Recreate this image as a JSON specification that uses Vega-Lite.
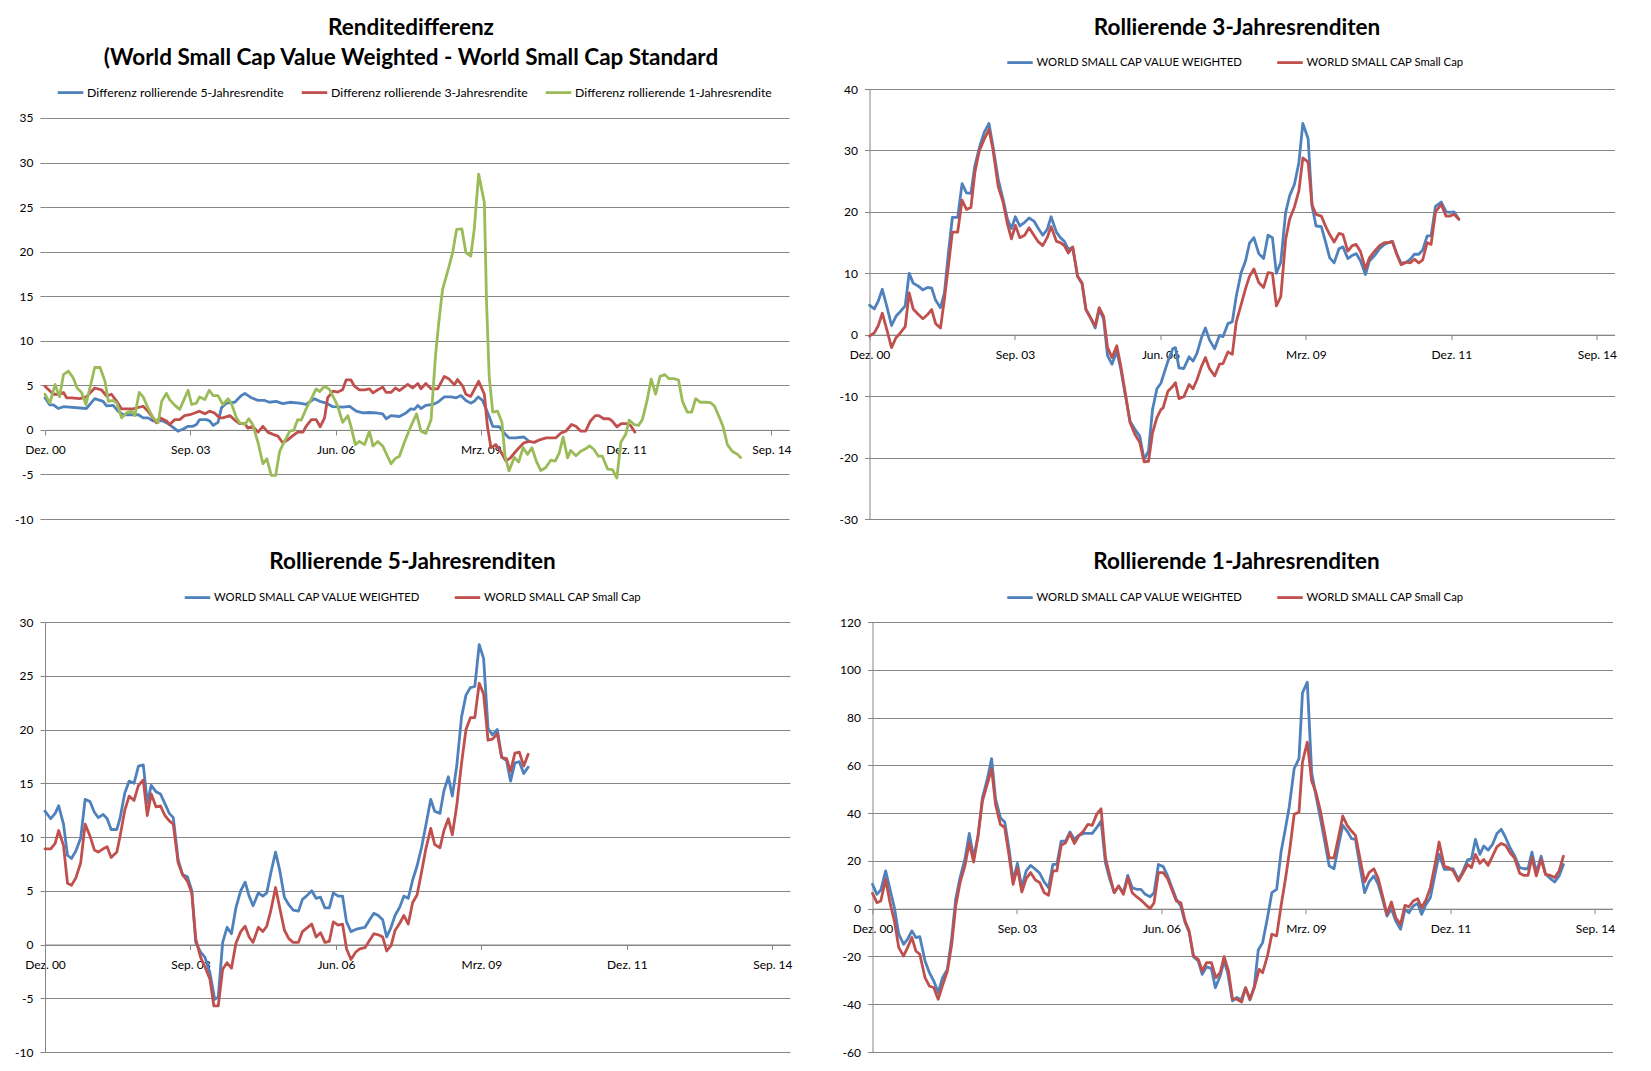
{
  "$schema": "https://vega.github.io/schema/vega-lite/v6.json",
  "autosize": "none",
  "padding": {"left": 45, "top": 89, "right": 1606, "bottom": 982},
  "background": "#ffffff",
  "config": {
    "font": "Lato",
    "view": {"stroke": null},
    "axis": {"labelFont": "Lato", "labelFontSize": 12, "labelColor": "#000000", "domainColor": "#868686", "tickColor": "#868686", "gridColor": "#868686", "gridWidth": 1, "domainWidth": 1, "tickSize": 5, "labelFlush": false, "labelOverlap": false, "title": null},
    "axisX": {"labelPadding": 10, "grid": false},
    "axisY": {"labelPadding": 7, "grid": true},
    "legend": {"labelFont": "Lato", "labelFontSize": 11.3, "labelColor": "#000000", "labelLimit": 500, "symbolType": "stroke", "symbolStrokeWidth": 2.5, "symbolSize": 650, "labelOffset": 2, "columnPadding": 32, "title": null, "orient": "none", "direction": "horizontal"},
    "title": {"font": "Lato", "fontSize": 22.5, "fontWeight": "bold", "color": "#000000", "frame": "group", "anchor": "middle"},
    "line": {"strokeWidth": 2.8, "strokeJoin": "round", "strokeCap": "round"}
  },
  "datasets": {
    "b5d": [{"m":0,"v":3.6},{"m":1.1,"v":2.8},{"m":1.9,"v":2.8},{"m":3,"v":2.4},{"m":4.2,"v":2.6},{"m":9.4,"v":2.4},{"m":11.3,"v":3.5},{"m":13.2,"v":3.2},{"m":14,"v":2.7},{"m":15.5,"v":2.75},{"m":16.6,"v":2.1},{"m":17.8,"v":1.7},{"m":21.2,"v":1.7},{"m":22.3,"v":1.35},{"m":23.4,"v":1.35},{"m":24.6,"v":1},{"m":26.8,"v":1},{"m":28.3,"v":0.6},{"m":30.2,"v":-0.15},{"m":31.4,"v":0.1},{"m":32.5,"v":0.4},{"m":33.6,"v":0.4},{"m":34.4,"v":0.6},{"m":35.1,"v":1.15},{"m":36.7,"v":1.15},{"m":37.4,"v":1},{"m":38.2,"v":0.5},{"m":39.3,"v":0.85},{"m":40.1,"v":2.5},{"m":41.2,"v":3},{"m":43.1,"v":3.1},{"m":44.6,"v":3.85},{"m":45.4,"v":4.1},{"m":46.9,"v":3.6},{"m":48.4,"v":3.3},{"m":49.9,"v":3.3},{"m":51,"v":3.1},{"m":52.5,"v":3.2},{"m":54,"v":2.95},{"m":55.6,"v":3.1},{"m":57.8,"v":3},{"m":59.3,"v":2.85},{"m":61.2,"v":3.5},{"m":62.4,"v":3.2},{"m":63.9,"v":3},{"m":65.4,"v":2.6},{"m":67.6,"v":2.55},{"m":69.2,"v":2.65},{"m":70.7,"v":2.1},{"m":72.2,"v":1.9},{"m":73.7,"v":1.95},{"m":75.2,"v":1.9},{"m":76.7,"v":1.8},{"m":77.5,"v":1.25},{"m":78.6,"v":1.6},{"m":80.5,"v":1.5},{"m":82,"v":1.9},{"m":83.1,"v":2.35},{"m":83.9,"v":2.3},{"m":84.7,"v":2.75},{"m":85.4,"v":2.4},{"m":86.5,"v":2.75},{"m":88.1,"v":2.85},{"m":89.2,"v":3.1},{"m":90.7,"v":3.7},{"m":92.2,"v":3.7},{"m":93.4,"v":3.6},{"m":94.5,"v":3.85},{"m":95.6,"v":3.3},{"m":96.7,"v":3},{"m":97.5,"v":3.2},{"m":98.4,"v":3.7},{"m":99.4,"v":3.3},{"m":100.9,"v":1.5},{"m":101.7,"v":0.4},{"m":103.2,"v":0.35},{"m":104.3,"v":-0.35},{"m":105.4,"v":-0.9},{"m":106.9,"v":-0.9},{"m":108.8,"v":-0.8},{"m":110,"v":-1.3}],
    "r3d": [{"m":0,"v":4.9},{"m":1.9,"v":4},{"m":3.4,"v":4},{"m":4.2,"v":4.2},{"m":4.9,"v":3.6},{"m":6,"v":3.6},{"m":7.9,"v":3.5},{"m":9.4,"v":3.7},{"m":11.3,"v":4.7},{"m":12.8,"v":4.5},{"m":14,"v":3.8},{"m":15.1,"v":4},{"m":16.3,"v":3.2},{"m":17.4,"v":2.35},{"m":20,"v":2.35},{"m":22.3,"v":2.65},{"m":23.4,"v":2.1},{"m":25.3,"v":0.8},{"m":26.1,"v":1.35},{"m":27.6,"v":1},{"m":28.3,"v":0.6},{"m":29.5,"v":1.15},{"m":30.6,"v":1.15},{"m":31.7,"v":1.6},{"m":32.9,"v":1.7},{"m":34,"v":1.9},{"m":35.1,"v":2.1},{"m":36.3,"v":1.8},{"m":37.4,"v":2.1},{"m":38.5,"v":1.9},{"m":39.7,"v":1.35},{"m":40.4,"v":1.35},{"m":42,"v":1.6},{"m":43.1,"v":1.1},{"m":44.2,"v":0.7},{"m":45.4,"v":0.7},{"m":46.1,"v":0.2},{"m":47.2,"v":0.4},{"m":48.4,"v":-0.25},{"m":49.5,"v":0.4},{"m":50.6,"v":-0.25},{"m":51.8,"v":-0.5},{"m":52.9,"v":-0.7},{"m":54,"v":-1.45},{"m":55.2,"v":-1.1},{"m":56.3,"v":-0.65},{"m":57.4,"v":-0.25},{"m":58.6,"v":-0.25},{"m":59.3,"v":0.4},{"m":60.5,"v":1.15},{"m":61.6,"v":1.15},{"m":62.5,"v":0.35},{"m":63.5,"v":1.35},{"m":64.2,"v":3.6},{"m":65.4,"v":4.35},{"m":66.5,"v":4.25},{"m":67.6,"v":4.5},{"m":68.4,"v":5.6},{"m":69.5,"v":5.6},{"m":70.3,"v":4.9},{"m":71.4,"v":4.5},{"m":72.6,"v":4.5},{"m":73.7,"v":4.6},{"m":74.5,"v":4.15},{"m":75.6,"v":4.5},{"m":76.7,"v":4.8},{"m":77.5,"v":4.2},{"m":78.6,"v":4.2},{"m":79.6,"v":4.7},{"m":80.5,"v":4.4},{"m":82.4,"v":5.1},{"m":83.5,"v":4.7},{"m":84.7,"v":5.2},{"m":85.4,"v":4.6},{"m":86.5,"v":5.2},{"m":87.7,"v":4.6},{"m":89.2,"v":4.6},{"m":90.7,"v":6},{"m":91.8,"v":5.7},{"m":93,"v":5.05},{"m":93.7,"v":5.65},{"m":94.9,"v":4.9},{"m":95.6,"v":4},{"m":96.7,"v":3.75},{"m":98.5,"v":5.45},{"m":99.8,"v":4},{"m":100.5,"v":0.4},{"m":101.3,"v":-2},{"m":102.4,"v":-1.65},{"m":103.5,"v":-2.4},{"m":104.7,"v":-3.5},{"m":105.8,"v":-3.1},{"m":107.3,"v":-2.2},{"m":108.8,"v":-1.45},{"m":110,"v":-1.3},{"m":111.1,"v":-1.4},{"m":112.2,"v":-1.15},{"m":113.8,"v":-0.9},{"m":114.9,"v":-0.9},{"m":116,"v":-0.9},{"m":117.2,"v":-0.35},{"m":118.3,"v":-0.15},{"m":119.6,"v":0.6},{"m":120.6,"v":0.4},{"m":121.7,"v":-0.15},{"m":122.8,"v":-0.15},{"m":123.9,"v":1},{"m":125,"v":1.6},{"m":125.8,"v":1.6},{"m":126.9,"v":1.25},{"m":128.1,"v":1.25},{"m":128.8,"v":1},{"m":129.9,"v":0.35},{"m":130.9,"v":0.7},{"m":132.2,"v":0.7},{"m":133,"v":0.5},{"m":134,"v":-0.25}],
    "g1d": [{"m":0,"v":4},{"m":1.1,"v":3},{"m":2.3,"v":5.1},{"m":3.3,"v":3.7},{"m":4.2,"v":6.2},{"m":5.3,"v":6.6},{"m":6.4,"v":5.85},{"m":7.3,"v":4.7},{"m":8.3,"v":4.2},{"m":9.3,"v":2.85},{"m":10.2,"v":4.7},{"m":11.3,"v":7},{"m":12.5,"v":7},{"m":13.6,"v":5.5},{"m":14.4,"v":3.2},{"m":15.5,"v":3.3},{"m":16.3,"v":3},{"m":17.4,"v":1.35},{"m":18.5,"v":1.9},{"m":19.7,"v":2.1},{"m":20.4,"v":1.6},{"m":21.4,"v":4.2},{"m":22.3,"v":3.7},{"m":23.4,"v":2.45},{"m":24.6,"v":1.35},{"m":25.7,"v":0.8},{"m":26.5,"v":3.2},{"m":27.6,"v":4.1},{"m":28.3,"v":3.4},{"m":29.5,"v":2.75},{"m":30.6,"v":2.3},{"m":31.4,"v":3.2},{"m":32.5,"v":4.45},{"m":33.3,"v":2.85},{"m":34.4,"v":3},{"m":35.1,"v":3.7},{"m":36.3,"v":3.4},{"m":37.3,"v":4.45},{"m":38.2,"v":3.85},{"m":39.3,"v":3.85},{"m":40.4,"v":2.85},{"m":41.6,"v":3.5},{"m":42.3,"v":3},{"m":43.5,"v":1.35},{"m":44.2,"v":0.8},{"m":45.4,"v":0.6},{"m":46.3,"v":1.25},{"m":47.2,"v":0.6},{"m":48.4,"v":-1.45},{"m":49.5,"v":-3.8},{"m":50.4,"v":-3.25},{"m":51.4,"v":-5.1},{"m":52.4,"v":-5.1},{"m":53.3,"v":-2.4},{"m":54.4,"v":-1.3},{"m":55.6,"v":-0.15},{"m":56.5,"v":-0.05},{"m":57.4,"v":1.15},{"m":58.2,"v":1.1},{"m":59.3,"v":2.35},{"m":60.5,"v":3.5},{"m":61.6,"v":4.6},{"m":62.4,"v":4.3},{"m":63.5,"v":4.9},{"m":64.6,"v":4.55},{"m":65.8,"v":3.4},{"m":66.5,"v":2.65},{"m":67.6,"v":0.85},{"m":68.8,"v":1.6},{"m":69.5,"v":0.4},{"m":70.5,"v":-1.65},{"m":71.4,"v":-1.3},{"m":72.6,"v":-1.65},{"m":73.7,"v":-0.15},{"m":74.5,"v":-1.8},{"m":75.6,"v":-1.3},{"m":76.7,"v":-1.8},{"m":78.6,"v":-3.8},{"m":79.6,"v":-3.2},{"m":80.5,"v":-2.95},{"m":81.6,"v":-1.45},{"m":83.1,"v":0.4},{"m":84.4,"v":1.8},{"m":85.4,"v":-0.15},{"m":86.5,"v":-0.4},{"m":87.7,"v":1.15},{"m":88.7,"v":8.3},{"m":89.4,"v":11.8},{"m":90.3,"v":15.75},{"m":91.7,"v":18.2},{"m":92.6,"v":19.9},{"m":93.5,"v":22.5},{"m":94.7,"v":22.55},{"m":95.6,"v":19.9},{"m":96.7,"v":19.5},{"m":97.5,"v":22.5},{"m":98.5,"v":28.7},{"m":99.8,"v":25.5},{"m":100.3,"v":14.25},{"m":100.9,"v":6},{"m":101.7,"v":2},{"m":102.8,"v":2.1},{"m":103.8,"v":0.85},{"m":104.5,"v":-2.95},{"m":105.4,"v":-4.6},{"m":106.6,"v":-3.1},{"m":107.6,"v":-3.6},{"m":108.6,"v":-2},{"m":109.6,"v":-2.75},{"m":110.6,"v":-2},{"m":111.6,"v":-3.5},{"m":112.6,"v":-4.55},{"m":113.7,"v":-4.25},{"m":114.9,"v":-3.4},{"m":115.9,"v":-3.5},{"m":116.8,"v":-2.6},{"m":117.7,"v":-0.8},{"m":118.7,"v":-3.15},{"m":119.4,"v":-2.3},{"m":120.6,"v":-2.9},{"m":121.7,"v":-2.4},{"m":122.7,"v":-2.15},{"m":123.7,"v":-1.8},{"m":124.7,"v":-2.2},{"m":125.7,"v":-2.95},{"m":126.6,"v":-2.95},{"m":127.8,"v":-4.4},{"m":128.9,"v":-4.45},{"m":129.9,"v":-5.4},{"m":130.8,"v":-1.4},{"m":131.9,"v":-0.5},{"m":132.7,"v":1.1},{"m":133.8,"v":0.6},{"m":134.8,"v":0.5},{"m":135.7,"v":1.15},{"m":136.8,"v":3.4},{"m":137.7,"v":5.7},{"m":138.7,"v":4},{"m":139.7,"v":6},{"m":140.8,"v":6.2},{"m":141.7,"v":5.75},{"m":142.9,"v":5.75},{"m":143.9,"v":5.6},{"m":144.8,"v":3.2},{"m":145.9,"v":2},{"m":146.9,"v":2},{"m":147.8,"v":3.5},{"m":148.9,"v":3.1},{"m":150,"v":3.1},{"m":151.2,"v":3.05},{"m":152.1,"v":2.65},{"m":153.1,"v":1.5},{"m":154,"v":0.4},{"m":155,"v":-1.65},{"m":156.1,"v":-2.4},{"m":157.3,"v":-2.75},{"m":158,"v":-3.1}],
    "b3": [{"m":0,"v":4.8},{"m":1.1,"v":4.2},{"m":2,"v":5.5},{"m":2.9,"v":7.4},{"m":3.9,"v":4.7},{"m":5,"v":1.5},{"m":6,"v":3},{"m":6.9,"v":3.7},{"m":8.1,"v":4.7},{"m":9,"v":10},{"m":9.9,"v":8.4},{"m":11.1,"v":7.9},{"m":12.1,"v":7.3},{"m":13.2,"v":7.7},{"m":14.1,"v":7.6},{"m":15,"v":5.6},{"m":16.1,"v":4.4},{"m":17,"v":6.8},{"m":17.9,"v":13.3},{"m":18.8,"v":19.1},{"m":20,"v":19.1},{"m":21,"v":24.6},{"m":22,"v":23.1},{"m":23,"v":23},{"m":23.9,"v":27.5},{"m":24.9,"v":30.4},{"m":26,"v":32.9},{"m":27.1,"v":34.4},{"m":28,"v":30.7},{"m":29.2,"v":25.3},{"m":30.3,"v":22},{"m":31.3,"v":18.8},{"m":32.2,"v":17.3},{"m":33.1,"v":19.2},{"m":34.1,"v":17.7},{"m":35.2,"v":18.3},{"m":36.2,"v":19},{"m":37.3,"v":18.5},{"m":38.2,"v":17.4},{"m":39.3,"v":16.2},{"m":40.3,"v":17.1},{"m":41.2,"v":19.2},{"m":42.4,"v":16.7},{"m":43.3,"v":15.8},{"m":44.2,"v":15.2},{"m":45.1,"v":13.9},{"m":46.1,"v":14.2},{"m":47.2,"v":9.5},{"m":48.2,"v":8.4},{"m":49.1,"v":4.1},{"m":50.1,"v":2.8},{"m":51.2,"v":1.1},{"m":52.1,"v":4.1},{"m":53.1,"v":2.6},{"m":54,"v":-3.4},{"m":55,"v":-4.8},{"m":56.1,"v":-2.7},{"m":57,"v":-5.6},{"m":58,"v":-9.7},{"m":59.1,"v":-14.1},{"m":60.2,"v":-15.4},{"m":61.3,"v":-16.5},{"m":62.3,"v":-20.3},{"m":63.3,"v":-18.9},{"m":64.2,"v":-12.2},{"m":65.2,"v":-8.8},{"m":66.1,"v":-7.9},{"m":67.7,"v":-4.3},{"m":68.8,"v":-2.3},{"m":69.4,"v":-2.1},{"m":70.2,"v":-5.4},{"m":71.3,"v":-5.5},{"m":72.5,"v":-3.6},{"m":73.4,"v":-4.3},{"m":74.3,"v":-3},{"m":75.3,"v":-0.5},{"m":76.2,"v":1.1},{"m":77.1,"v":-0.8},{"m":78.3,"v":-2.3},{"m":79.4,"v":-0.1},{"m":80.2,"v":-0.3},{"m":81.3,"v":1.8},{"m":82.3,"v":2.1},{"m":83.2,"v":6.3},{"m":84.3,"v":10.1},{"m":85.3,"v":12},{"m":86.2,"v":14.9},{"m":87.2,"v":15.8},{"m":88.3,"v":13.2},{"m":89.4,"v":12.4},{"m":90.4,"v":16.2},{"m":91.4,"v":15.8},{"m":92.3,"v":10},{"m":93.3,"v":11.8},{"m":94.4,"v":19.9},{"m":95.3,"v":22.6},{"m":96.4,"v":24.5},{"m":97.4,"v":28},{"m":98.3,"v":34.4},{"m":99.5,"v":31.9},{"m":100.4,"v":20.9},{"m":101.3,"v":17.7},{"m":102.5,"v":17.6},{"m":103.5,"v":15},{"m":104.4,"v":12.5},{"m":105.4,"v":11.7},{"m":106.5,"v":14},{"m":107.4,"v":14.3},{"m":108.5,"v":12.4},{"m":109.5,"v":12.9},{"m":110.4,"v":13.2},{"m":111.4,"v":12},{"m":112.5,"v":9.8},{"m":113.4,"v":12},{"m":114.6,"v":12.9},{"m":115.7,"v":14},{"m":116.8,"v":14.7},{"m":117.8,"v":15},{"m":118.6,"v":15.2},{"m":119.6,"v":13.2},{"m":120.6,"v":11.6},{"m":121.8,"v":11.8},{"m":122.7,"v":12.3},{"m":123.6,"v":13.1},{"m":124.6,"v":13.1},{"m":125.5,"v":13.8},{"m":126.5,"v":16.1},{"m":127.4,"v":16.1},{"m":128.4,"v":20.9},{"m":129.7,"v":21.6},{"m":130.8,"v":20},{"m":131.6,"v":19.9},{"m":132.6,"v":20},{"m":133.7,"v":18.8}],
    "r3": [{"m":0,"v":-0.2},{"m":1.1,"v":0.3},{"m":2,"v":1.5},{"m":2.9,"v":3.5},{"m":3.9,"v":0.9},{"m":5,"v":-2.1},{"m":6,"v":-0.5},{"m":6.9,"v":0.2},{"m":8.1,"v":1.3},{"m":9,"v":6.8},{"m":9.9,"v":4.2},{"m":11.1,"v":3.3},{"m":12.1,"v":2.6},{"m":13.2,"v":3.3},{"m":14.1,"v":4.1},{"m":15,"v":1.8},{"m":16.1,"v":1.1},{"m":17,"v":5.8},{"m":17.9,"v":11.2},{"m":18.8,"v":16.7},{"m":20,"v":16.7},{"m":21,"v":21.9},{"m":22,"v":20.4},{"m":23,"v":20.7},{"m":23.9,"v":26.4},{"m":24.9,"v":29.9},{"m":26,"v":31.8},{"m":27.1,"v":33.4},{"m":28,"v":30.2},{"m":29.2,"v":24.1},{"m":30.3,"v":21.6},{"m":31.3,"v":18},{"m":32.2,"v":15.6},{"m":33.1,"v":17.8},{"m":34.1,"v":15.8},{"m":35.2,"v":16.2},{"m":36.2,"v":17.4},{"m":37.3,"v":16.2},{"m":38.2,"v":15.2},{"m":39.3,"v":14.5},{"m":40.3,"v":15.8},{"m":41.2,"v":17.6},{"m":42.4,"v":15.2},{"m":43.3,"v":15},{"m":44.2,"v":14.5},{"m":45.1,"v":13.3},{"m":46.1,"v":14.3},{"m":47.2,"v":9.5},{"m":48.2,"v":8.4},{"m":49.1,"v":4.1},{"m":50.1,"v":2.8},{"m":51.2,"v":1.4},{"m":52.1,"v":4.4},{"m":53.1,"v":3},{"m":54,"v":-2.1},{"m":55,"v":-3.7},{"m":56.1,"v":-1.8},{"m":57,"v":-5.1},{"m":58,"v":-9.4},{"m":59.1,"v":-14.3},{"m":60.2,"v":-16.2},{"m":61.3,"v":-17.5},{"m":62.3,"v":-20.7},{"m":63.3,"v":-20.6},{"m":64.2,"v":-16},{"m":65.2,"v":-13.5},{"m":66.1,"v":-12.2},{"m":66.6,"v":-11.9},{"m":67.7,"v":-9.2},{"m":68.8,"v":-8.4},{"m":69.4,"v":-7.8},{"m":70.2,"v":-10.4},{"m":71.3,"v":-10.1},{"m":72.5,"v":-8.1},{"m":73.4,"v":-8.8},{"m":74.3,"v":-7.3},{"m":75.3,"v":-5.2},{"m":76.2,"v":-3.7},{"m":77.1,"v":-5.5},{"m":78.3,"v":-6.7},{"m":79.4,"v":-4.8},{"m":80.2,"v":-4.7},{"m":81.3,"v":-2.8},{"m":82.3,"v":-3.2},{"m":83.2,"v":2.1},{"m":84.3,"v":4.9},{"m":85.3,"v":7.5},{"m":86.2,"v":9.5},{"m":87.2,"v":10.7},{"m":88.3,"v":8.5},{"m":89.4,"v":7.7},{"m":90.4,"v":10.1},{"m":91.4,"v":10},{"m":92.3,"v":4.7},{"m":93.3,"v":6.2},{"m":94.4,"v":15.5},{"m":95.3,"v":18.8},{"m":96.4,"v":20.8},{"m":97.4,"v":23.4},{"m":98.3,"v":28.8},{"m":99.5,"v":28.1},{"m":100.4,"v":21.1},{"m":101.3,"v":19.6},{"m":102.5,"v":19.3},{"m":103.5,"v":17.6},{"m":104.4,"v":16.3},{"m":105.4,"v":15.1},{"m":106.5,"v":16.5},{"m":107.4,"v":16.3},{"m":108.5,"v":13.6},{"m":109.5,"v":14.5},{"m":110.4,"v":14.7},{"m":111.4,"v":13.5},{"m":112.5,"v":10.7},{"m":113.4,"v":12.5},{"m":114.6,"v":13.6},{"m":115.7,"v":14.5},{"m":116.8,"v":15},{"m":117.8,"v":15},{"m":118.6,"v":15.2},{"m":119.6,"v":13.1},{"m":120.6,"v":11.4},{"m":121.8,"v":11.8},{"m":122.7,"v":11.7},{"m":123.6,"v":12.3},{"m":124.6,"v":11.7},{"m":125.5,"v":12.2},{"m":126.5,"v":15},{"m":127.4,"v":14.7},{"m":128.4,"v":20},{"m":129.7,"v":21.2},{"m":130.8,"v":19.3},{"m":131.6,"v":19.3},{"m":132.6,"v":19.6},{"m":133.7,"v":18.8}],
    "b5": [{"m":0,"v":12.4},{"m":1.3,"v":11.7},{"m":2.3,"v":12.2},{"m":3.1,"v":12.9},{"m":4.2,"v":11.2},{"m":5.1,"v":8.3},{"m":6,"v":8},{"m":7,"v":8.7},{"m":8.1,"v":9.9},{"m":9.1,"v":13.5},{"m":10.2,"v":13.3},{"m":11.2,"v":12.3},{"m":12.1,"v":11.8},{"m":13.2,"v":12.1},{"m":14.1,"v":11.7},{"m":15,"v":10.7},{"m":16.3,"v":10.7},{"m":17,"v":11.7},{"m":18.1,"v":14.1},{"m":19.1,"v":15.2},{"m":20.2,"v":15},{"m":21.2,"v":16.6},{"m":22.3,"v":16.7},{"m":23.2,"v":13.2},{"m":24.1,"v":14.8},{"m":25.2,"v":14.2},{"m":26.2,"v":14},{"m":27.2,"v":13.1},{"m":28.2,"v":12.2},{"m":29.1,"v":11.8},{"m":30.2,"v":7.9},{"m":31.2,"v":6.5},{"m":32.3,"v":6.3},{"m":33.3,"v":5},{"m":34.2,"v":0.2},{"m":35.3,"v":-0.7},{"m":36.3,"v":-1.2},{"m":37.4,"v":-2.6},{"m":38.5,"v":-5.1},{"m":39.3,"v":-4.9},{"m":40.3,"v":0.2},{"m":41.3,"v":1.6},{"m":42.3,"v":1},{"m":43.3,"v":3.4},{"m":44.4,"v":5},{"m":45.4,"v":5.8},{"m":46.3,"v":4.5},{"m":47.2,"v":3.6},{"m":48.4,"v":4.8},{"m":49.4,"v":4.5},{"m":50.3,"v":4.8},{"m":51.2,"v":6.6},{"m":52.3,"v":8.6},{"m":53.3,"v":6.8},{"m":54.3,"v":4.4},{"m":55.3,"v":3.7},{"m":56.3,"v":3.2},{"m":57.5,"v":3.1},{"m":58.4,"v":4.2},{"m":59.3,"v":4.5},{"m":60.5,"v":5},{"m":61.5,"v":4.3},{"m":62.5,"v":4.4},{"m":63.5,"v":3.4},{"m":64.5,"v":3.4},{"m":65.4,"v":4.8},{"m":66.5,"v":4.5},{"m":67.5,"v":4.5},{"m":68.4,"v":2.1},{"m":69.4,"v":1.2},{"m":70.5,"v":1.4},{"m":71.4,"v":1.5},{"m":72.6,"v":1.6},{"m":73.5,"v":2.2},{"m":74.6,"v":2.9},{"m":75.6,"v":2.7},{"m":76.6,"v":2.3},{"m":77.5,"v":0.7},{"m":78.5,"v":1.6},{"m":79.4,"v":2.7},{"m":80.5,"v":3.5},{"m":81.4,"v":4.5},{"m":82.4,"v":4.3},{"m":83.4,"v":6},{"m":84.4,"v":7.3},{"m":85.4,"v":9},{"m":86.4,"v":11.1},{"m":87.5,"v":13.5},{"m":88.4,"v":12.4},{"m":89.6,"v":12.2},{"m":90.5,"v":14.3},{"m":91.5,"v":15.6},{"m":92.4,"v":13.8},{"m":93.4,"v":16.6},{"m":94.5,"v":21.2},{"m":95.5,"v":23.2},{"m":96.5,"v":23.9},{"m":97.5,"v":24},{"m":98.5,"v":27.9},{"m":99.5,"v":26.6},{"m":100.5,"v":20.1},{"m":101.5,"v":19.5},{"m":102.6,"v":20},{"m":103.6,"v":17.4},{"m":104.7,"v":17.1},{"m":105.6,"v":15.2},{"m":106.6,"v":16.9},{"m":107.6,"v":17},{"m":108.6,"v":15.9},{"m":109.6,"v":16.5}],
    "r5": [{"m":0,"v":8.9},{"m":1.3,"v":8.9},{"m":2.3,"v":9.4},{"m":3.1,"v":10.6},{"m":4.2,"v":9.2},{"m":5.1,"v":5.7},{"m":6,"v":5.5},{"m":7,"v":6.2},{"m":8.1,"v":7.6},{"m":9.1,"v":11.2},{"m":10.2,"v":10.1},{"m":11.2,"v":8.8},{"m":12.1,"v":8.6},{"m":13.2,"v":8.9},{"m":14.1,"v":9.1},{"m":15,"v":8.1},{"m":16.3,"v":8.6},{"m":17,"v":10},{"m":18.1,"v":12.5},{"m":19.1,"v":13.8},{"m":20.2,"v":13.4},{"m":21.2,"v":14.8},{"m":22.3,"v":15.3},{"m":23.2,"v":12},{"m":24.1,"v":14},{"m":25.2,"v":12.8},{"m":26.2,"v":12.9},{"m":27.2,"v":12},{"m":28.2,"v":11.5},{"m":29.1,"v":11.2},{"m":30.2,"v":7.6},{"m":31.2,"v":6.5},{"m":32.3,"v":5.9},{"m":33.3,"v":4.8},{"m":34.2,"v":0.5},{"m":35.3,"v":-1.2},{"m":36.3,"v":-2.1},{"m":37.4,"v":-3.2},{"m":38.3,"v":-5.7},{"m":39.3,"v":-5.7},{"m":40.3,"v":-2.3},{"m":41.3,"v":-1.7},{"m":42.3,"v":-2.2},{"m":43.3,"v":0.1},{"m":44.4,"v":1.2},{"m":45.4,"v":1.7},{"m":46.3,"v":0.7},{"m":47.2,"v":0.2},{"m":48.4,"v":1.6},{"m":49.4,"v":1.2},{"m":50.3,"v":1.7},{"m":51.2,"v":3.1},{"m":52.3,"v":5.3},{"m":53.3,"v":3.3},{"m":54.3,"v":1.35},{"m":55.3,"v":0.55},{"m":56.3,"v":0.2},{"m":57.5,"v":0.2},{"m":58.4,"v":1.2},{"m":59.3,"v":1.5},{"m":60.5,"v":1.9},{"m":61.5,"v":0.7},{"m":62.5,"v":1.1},{"m":63.5,"v":0.2},{"m":64.5,"v":0.3},{"m":65.4,"v":2.1},{"m":66.5,"v":1.8},{"m":67.5,"v":1.9},{"m":68.4,"v":-0.4},{"m":69.4,"v":-1.4},{"m":70.5,"v":-0.7},{"m":71.4,"v":-0.4},{"m":72.6,"v":-0.3},{"m":73.5,"v":0.3},{"m":74.6,"v":1},{"m":75.6,"v":0.9},{"m":76.6,"v":0.7},{"m":77.5,"v":-0.6},{"m":78.5,"v":-0.1},{"m":79.4,"v":1.3},{"m":80.5,"v":2},{"m":81.4,"v":2.7},{"m":82.4,"v":1.9},{"m":83.4,"v":3.9},{"m":84.4,"v":4.6},{"m":85.4,"v":6.7},{"m":86.4,"v":8.9},{"m":87.5,"v":10.8},{"m":88.4,"v":9.3},{"m":89.6,"v":9},{"m":90.5,"v":10.6},{"m":91.5,"v":11.7},{"m":92.4,"v":10.2},{"m":93.4,"v":12.9},{"m":94.5,"v":16.9},{"m":95.5,"v":20},{"m":96.5,"v":21.1},{"m":97.5,"v":21.1},{"m":98.5,"v":24.3},{"m":99.5,"v":23.3},{"m":100.5,"v":19},{"m":101.5,"v":19.1},{"m":102.6,"v":19.6},{"m":103.6,"v":17.4},{"m":104.7,"v":17.3},{"m":105.6,"v":16.1},{"m":106.6,"v":17.8},{"m":107.6,"v":17.9},{"m":108.6,"v":16.6},{"m":109.6,"v":17.7}],
    "b1": [{"m":0,"v":10.2},{"m":1,"v":6},{"m":1.9,"v":7.8},{"m":3,"v":15.8},{"m":4,"v":8.1},{"m":5,"v":0.4},{"m":6,"v":-10.7},{"m":7.1,"v":-14.9},{"m":8,"v":-12.8},{"m":9,"v":-9.3},{"m":9.9,"v":-12.1},{"m":10.8,"v":-11.7},{"m":12,"v":-21.9},{"m":13,"v":-26.8},{"m":14,"v":-30.3},{"m":15,"v":-35.1},{"m":16,"v":-28.9},{"m":17.1,"v":-25.4},{"m":18.1,"v":-12.1},{"m":19,"v":3.9},{"m":20,"v":13},{"m":21.1,"v":20.6},{"m":22.1,"v":31.5},{"m":23.1,"v":21.3},{"m":24.1,"v":30.4},{"m":25.1,"v":46.4},{"m":26.2,"v":54.1},{"m":27.2,"v":62.8},{"m":28.1,"v":46},{"m":29.2,"v":38.1},{"m":30.2,"v":36.3},{"m":31.2,"v":24.8},{"m":32.1,"v":11.6},{"m":33.1,"v":19},{"m":34.1,"v":8.8},{"m":35.1,"v":15.8},{"m":36.1,"v":18.1},{"m":37.2,"v":16.5},{"m":38.2,"v":14.8},{"m":39.2,"v":11.2},{"m":40.2,"v":8.8},{"m":41.2,"v":18.5},{"m":42.1,"v":18.5},{"m":43.1,"v":28.3},{"m":44.1,"v":28.3},{"m":45.1,"v":32.1},{"m":46.1,"v":29},{"m":47.1,"v":30.7},{"m":48.2,"v":31.5},{"m":49.2,"v":31.5},{"m":50.2,"v":31.5},{"m":51.2,"v":33.9},{"m":52.2,"v":36.7},{"m":53.2,"v":19.2},{"m":54.2,"v":12.3},{"m":55.2,"v":6.7},{"m":56.2,"v":9.5},{"m":57.3,"v":6.7},{"m":58.3,"v":13.9},{"m":59.3,"v":8.8},{"m":60.3,"v":8.1},{"m":61.3,"v":8.1},{"m":62.3,"v":6},{"m":63.4,"v":5},{"m":64.3,"v":6.7},{"m":65.3,"v":18.5},{"m":66.4,"v":17.6},{"m":67.4,"v":13.7},{"m":68.4,"v":8.8},{"m":69.4,"v":3.9},{"m":70.4,"v":1.1},{"m":71.4,"v":-5.9},{"m":72.3,"v":-9.8},{"m":73.3,"v":-20.1},{"m":74.4,"v":-21.9},{"m":75.3,"v":-27.5},{"m":76.3,"v":-24.3},{"m":77.4,"v":-25.1},{"m":78.3,"v":-33.1},{"m":79.4,"v":-28.2},{"m":80.3,"v":-21.9},{"m":81.1,"v":-26.8},{"m":82.2,"v":-38.6},{"m":83.2,"v":-37.2},{"m":84.2,"v":-38.2},{"m":85.2,"v":-33.1},{"m":86.2,"v":-38.2},{"m":87.2,"v":-32.4},{"m":88.1,"v":-17.3},{"m":89.1,"v":-14.2},{"m":90.2,"v":-3.8},{"m":91.2,"v":6.7},{"m":92.3,"v":8.1},{"m":93.3,"v":23.7},{"m":94.2,"v":32.5},{"m":95.2,"v":42.9},{"m":96.3,"v":58.6},{"m":97.4,"v":62.8},{"m":98.2,"v":90.4},{"m":99.3,"v":94.8},{"m":100.3,"v":56.9},{"m":101.3,"v":47.1},{"m":102.3,"v":37.7},{"m":103.3,"v":27.9},{"m":104.3,"v":17.9},{"m":105.4,"v":16.7},{"m":106.4,"v":26.2},{"m":107.4,"v":34.9},{"m":108.4,"v":32.5},{"m":109.4,"v":29.3},{"m":110.3,"v":29},{"m":111.3,"v":17.9},{"m":112.4,"v":6.7},{"m":113.4,"v":11.2},{"m":114.5,"v":13.7},{"m":115.5,"v":10.2},{"m":116.5,"v":3.9},{"m":117.5,"v":-3.1},{"m":118.5,"v":0},{"m":119.5,"v":-5.2},{"m":120.6,"v":-8.6},{"m":121.6,"v":-0.3},{"m":122.5,"v":-1.7},{"m":123.5,"v":1.1},{"m":124.5,"v":2.2},{"m":125.4,"v":-2.4},{"m":126.4,"v":1.8},{"m":127.4,"v":4.6},{"m":128.4,"v":13.7},{"m":129.4,"v":22.7},{"m":130.6,"v":16.5},{"m":131.6,"v":16.5},{"m":132.6,"v":16.7},{"m":133.8,"v":12.3},{"m":134.7,"v":15.1},{"m":135.9,"v":20.4},{"m":136.8,"v":20.9},{"m":137.7,"v":29},{"m":138.7,"v":22.7},{"m":139.6,"v":26.2},{"m":140.6,"v":24.5},{"m":141.6,"v":26.9},{"m":142.6,"v":31.5},{"m":143.6,"v":33.2},{"m":144.6,"v":29.7},{"m":145.6,"v":25.5},{"m":146.6,"v":22.3},{"m":147.8,"v":17.2},{"m":148.8,"v":16.7},{"m":149.7,"v":16.7},{"m":150.6,"v":23.7},{"m":151.6,"v":15.1},{"m":152.7,"v":22},{"m":153.7,"v":14.4},{"m":154.8,"v":12.6},{"m":155.8,"v":11.2},{"m":156.8,"v":13.7},{"m":157.8,"v":18.5}],
    "r1": [{"m":0,"v":6.4},{"m":1,"v":2.5},{"m":1.9,"v":3.2},{"m":3,"v":12.3},{"m":4,"v":2.5},{"m":5,"v":-5.2},{"m":6,"v":-16.3},{"m":7.1,"v":-19.8},{"m":8,"v":-16.3},{"m":9,"v":-12.1},{"m":9.9,"v":-17.7},{"m":10.8,"v":-19.1},{"m":12,"v":-28.9},{"m":13,"v":-32.4},{"m":14,"v":-33.1},{"m":15,"v":-37.9},{"m":16,"v":-32.1},{"m":17.1,"v":-26.1},{"m":18.1,"v":-14.9},{"m":19,"v":1.1},{"m":20,"v":10.9},{"m":21.1,"v":17.9},{"m":22.1,"v":27.6},{"m":23.1,"v":19.5},{"m":24.1,"v":30.4},{"m":25.1,"v":45},{"m":26.2,"v":52},{"m":27.2,"v":58.6},{"m":28.1,"v":43.7},{"m":29.2,"v":35.3},{"m":30.2,"v":33.9},{"m":31.2,"v":22},{"m":32.1,"v":10.2},{"m":33.1,"v":17.2},{"m":34.1,"v":7},{"m":35.1,"v":12.6},{"m":36.1,"v":15.1},{"m":37.2,"v":12},{"m":38.2,"v":10.9},{"m":39.2,"v":6.7},{"m":40.2,"v":5.6},{"m":41.2,"v":15.8},{"m":42.1,"v":15.8},{"m":43.1,"v":26.5},{"m":44.1,"v":27.6},{"m":45.1,"v":31.5},{"m":46.1,"v":27.3},{"m":47.1,"v":30.4},{"m":48.2,"v":32.5},{"m":49.2,"v":35.3},{"m":50.2,"v":34.9},{"m":51.2,"v":39.5},{"m":52.2,"v":41.8},{"m":53.2,"v":21.3},{"m":54.2,"v":13.7},{"m":55.2,"v":6.7},{"m":56.2,"v":9.5},{"m":57.3,"v":6},{"m":58.3,"v":13},{"m":59.3,"v":6.7},{"m":60.3,"v":5},{"m":61.3,"v":3.6},{"m":62.3,"v":1.8},{"m":63.4,"v":0},{"m":64.3,"v":2.5},{"m":65.3,"v":15.1},{"m":66.4,"v":15.1},{"m":67.4,"v":12.6},{"m":68.4,"v":7.8},{"m":69.4,"v":3.2},{"m":70.4,"v":2.5},{"m":71.4,"v":-5.2},{"m":72.3,"v":-9.3},{"m":73.3,"v":-19.8},{"m":74.4,"v":-21.2},{"m":75.3,"v":-26.1},{"m":76.3,"v":-22.6},{"m":77.4,"v":-22.6},{"m":78.4,"v":-28.9},{"m":79.4,"v":-26.8},{"m":80.3,"v":-20.1},{"m":81.3,"v":-26.1},{"m":82.2,"v":-37.7},{"m":83.2,"v":-37.9},{"m":84.3,"v":-39.1},{"m":85.2,"v":-33.1},{"m":86.2,"v":-37.9},{"m":87.2,"v":-33.1},{"m":88.3,"v":-25.4},{"m":89.1,"v":-26.8},{"m":90.2,"v":-19.8},{"m":91.2,"v":-10.7},{"m":92.3,"v":-11.4},{"m":93.3,"v":1.1},{"m":94.3,"v":12.3},{"m":95.3,"v":24.8},{"m":96.3,"v":39.5},{"m":97.4,"v":40.4},{"m":98.2,"v":61.4},{"m":99.3,"v":69.7},{"m":100.3,"v":53.4},{"m":101.3,"v":48.5},{"m":102.3,"v":40.9},{"m":103.3,"v":31.1},{"m":104.3,"v":21.3},{"m":105.4,"v":21.3},{"m":106.4,"v":29.7},{"m":107.4,"v":38.8},{"m":108.4,"v":34.9},{"m":109.4,"v":32.5},{"m":110.3,"v":30.7},{"m":111.3,"v":21.3},{"m":112.4,"v":11.2},{"m":113.4,"v":15.1},{"m":114.5,"v":16.7},{"m":115.5,"v":12.6},{"m":116.5,"v":5.3},{"m":117.5,"v":-2.4},{"m":118.5,"v":2.8},{"m":119.5,"v":-3.8},{"m":120.6,"v":-6.6},{"m":121.6,"v":1.4},{"m":122.5,"v":0.8},{"m":123.5,"v":3.2},{"m":124.5,"v":4.2},{"m":125.4,"v":0.4},{"m":126.4,"v":3.6},{"m":127.4,"v":8.8},{"m":128.4,"v":17.9},{"m":129.4,"v":27.9},{"m":130.6,"v":17.6},{"m":131.6,"v":17.2},{"m":132.6,"v":15.8},{"m":133.8,"v":11.6},{"m":134.7,"v":14.4},{"m":135.9,"v":18.5},{"m":136.8,"v":17.2},{"m":137.7,"v":22.7},{"m":138.7,"v":19},{"m":139.6,"v":20.6},{"m":140.6,"v":18.1},{"m":141.6,"v":22},{"m":142.6,"v":25.9},{"m":143.6,"v":27.3},{"m":144.6,"v":26.5},{"m":145.6,"v":23.4},{"m":146.6,"v":21.3},{"m":147.8,"v":14.8},{"m":148.8,"v":13.9},{"m":149.7,"v":13.9},{"m":150.6,"v":21.3},{"m":151.6,"v":13.7},{"m":152.7,"v":20.6},{"m":153.7,"v":14.4},{"m":154.8,"v":13.9},{"m":155.8,"v":13},{"m":156.8,"v":15.8},{"m":157.8,"v":22}]
  },
  "resolve": {"scale": {"color": "independent"}, "legend": {"color": "independent"}},
  "spacing": 26,
  "vconcat": [
    {
      "spacing": 46.5,
      "resolve": {"scale": {"color": "independent"}, "legend": {"color": "independent"}},
      "hconcat": [
        {
          "width": 744, "height": 430,
          "title": {"text": ["Renditedifferenz", "(World Small Cap Value Weighted - World Small Cap Standard"], "lineHeight": 30, "offset": 8.5, "dx": -6},
          "encoding": {
            "x": {"field": "m", "type": "quantitative", "scale": {"domain": [0, 169], "nice": false, "zero": false}, "axis": {"values": [0, 33, 66, 99, 132, 165], "offset": -89.1, "labelExpr": "datum.value == 0 ? 'Dez. 00' : datum.value == 33 ? 'Sep. 03' : datum.value == 66 ? 'Jun. 06' : datum.value == 99 ? 'Mrz. 09' : datum.value == 132 ? 'Dez. 11' : 'Sep. 14'"}},
            "y": {"field": "v", "type": "quantitative", "scale": {"domain": [-10, 38.25], "nice": false, "zero": false}, "axis": {"values": [-10, -5, 0, 5, 10, 15, 20, 25, 30, 35], "domain": false, "labelExpr": "'' + datum.value"}}
          },
          "layer": [
            {"data": {"values": [{}]}, "mark": {"type": "rule", "color": "#868686", "strokeWidth": 1}, "encoding": {"x": {"datum": 0, "type": "quantitative"}, "y": {"datum": -10, "type": "quantitative"}, "y2": {"datum": 35}}},
            {"data": {"name": "b5d"}, "mark": "line", "encoding": {"color": {"datum": "Differenz rollierende 5-Jahresrendite", "type": "nominal", "scale": {"domain": ["Differenz rollierende 5-Jahresrendite", "Differenz rollierende 3-Jahresrendite", "Differenz rollierende 1-Jahresrendite"], "range": ["#4F81BD", "#C0504D", "#9BBB59"]}, "legend": {"legendX": 11, "legendY": -11, "columnPadding": 16, "labelFontSize": 12.3}}}},
            {"data": {"name": "r3d"}, "mark": "line", "encoding": {"color": {"datum": "Differenz rollierende 3-Jahresrendite", "type": "nominal"}}},
            {"data": {"name": "g1d"}, "mark": "line", "encoding": {"color": {"datum": "Differenz rollierende 1-Jahresrendite", "type": "nominal"}}}
          ]
        },
        {
          "width": 745, "height": 430,
          "title": {"text": "Rollierende 3-Jahresrenditen", "offset": 8.3, "dx": -5},
          "encoding": {
            "x": {"field": "m", "type": "quantitative", "scale": {"domain": [0, 169], "nice": false, "zero": false}, "axis": {"values": [0, 33, 66, 99, 132, 165], "offset": -184.3, "labelExpr": "datum.value == 0 ? 'Dez. 00' : datum.value == 33 ? 'Sep. 03' : datum.value == 66 ? 'Jun. 06' : datum.value == 99 ? 'Mrz. 09' : datum.value == 132 ? 'Dez. 11' : 'Sep. 14'"}},
            "y": {"field": "v", "type": "quantitative", "scale": {"domain": [-30, 40], "nice": false, "zero": false}, "axis": {"values": [-30, -20, -10, 0, 10, 20, 30, 40], "labelExpr": "'' + datum.value"}}
          },
          "layer": [
            {"data": {"name": "b3"}, "mark": "line", "encoding": {"color": {"datum": "WORLD SMALL CAP VALUE WEIGHTED", "type": "nominal", "scale": {"domain": ["WORLD SMALL CAP VALUE WEIGHTED", "WORLD SMALL CAP Small Cap"], "range": ["#4F81BD", "#C0504D"]}, "legend": {"legendX": 136, "legendY": -41}}}},
            {"data": {"name": "r3"}, "mark": "line", "encoding": {"color": {"datum": "WORLD SMALL CAP Small Cap", "type": "nominal"}}}
          ]
        }
      ]
    },
    {
      "spacing": 46.5,
      "resolve": {"scale": {"color": "independent"}, "legend": {"color": "independent"}},
      "hconcat": [
        {
          "width": 745, "height": 430,
          "title": {"text": "Rollierende 5-Jahresrenditen", "offset": 9.3, "dx": -5},
          "encoding": {
            "x": {"field": "m", "type": "quantitative", "scale": {"domain": [0, 169], "nice": false, "zero": false}, "axis": {"values": [0, 33, 66, 99, 132, 165], "offset": -107.5, "labelExpr": "datum.value == 0 ? 'Dez. 00' : datum.value == 33 ? 'Sep. 03' : datum.value == 66 ? 'Jun. 06' : datum.value == 99 ? 'Mrz. 09' : datum.value == 132 ? 'Dez. 11' : 'Sep. 14'"}},
            "y": {"field": "v", "type": "quantitative", "scale": {"domain": [-10, 30], "nice": false, "zero": false}, "axis": {"values": [-10, -5, 0, 5, 10, 15, 20, 25, 30], "labelExpr": "'' + datum.value"}}
          },
          "layer": [
            {"data": {"name": "b5"}, "mark": "line", "encoding": {"color": {"datum": "WORLD SMALL CAP VALUE WEIGHTED", "type": "nominal", "scale": {"domain": ["WORLD SMALL CAP VALUE WEIGHTED", "WORLD SMALL CAP Small Cap"], "range": ["#4F81BD", "#C0504D"]}, "legend": {"legendX": 138, "legendY": -39}}}},
            {"data": {"name": "r5"}, "mark": "line", "encoding": {"color": {"datum": "WORLD SMALL CAP Small Cap", "type": "nominal"}}}
          ]
        },
        {
          "width": 740, "height": 430,
          "title": {"text": "Rollierende 1-Jahresrenditen", "offset": 9.3, "dx": -6},
          "encoding": {
            "x": {"field": "m", "type": "quantitative", "scale": {"domain": [0, 169], "nice": false, "zero": false}, "axis": {"values": [0, 33, 66, 99, 132, 165], "offset": -143.3, "labelExpr": "datum.value == 0 ? 'Dez. 00' : datum.value == 33 ? 'Sep. 03' : datum.value == 66 ? 'Jun. 06' : datum.value == 99 ? 'Mrz. 09' : datum.value == 132 ? 'Dez. 11' : 'Sep. 14'"}},
            "y": {"field": "v", "type": "quantitative", "scale": {"domain": [-60, 120], "nice": false, "zero": false}, "axis": {"values": [-60, -40, -20, 0, 20, 40, 60, 80, 100, 120], "labelExpr": "'' + datum.value"}}
          },
          "layer": [
            {"data": {"name": "b1"}, "mark": "line", "encoding": {"color": {"datum": "WORLD SMALL CAP VALUE WEIGHTED", "type": "nominal", "scale": {"domain": ["WORLD SMALL CAP VALUE WEIGHTED", "WORLD SMALL CAP Small Cap"], "range": ["#4F81BD", "#C0504D"]}, "legend": {"legendX": 133, "legendY": -39}}}},
            {"data": {"name": "r1"}, "mark": "line", "encoding": {"color": {"datum": "WORLD SMALL CAP Small Cap", "type": "nominal"}}}
          ]
        }
      ]
    }
  ]
}
